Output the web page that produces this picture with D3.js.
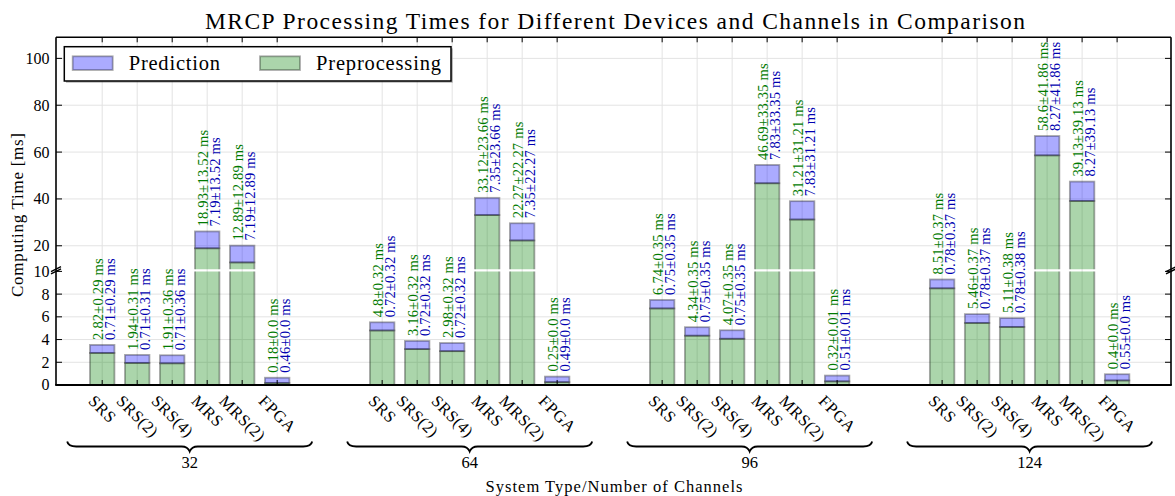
<!DOCTYPE html>
<html>
<head>
<meta charset="utf-8">
<script src="https://cdn.jsdelivr.net/npm/d3@7"></script>
<style>
  html, body { margin: 0; padding: 0; background: #fff; }
  svg { display: block; font-family: "Liberation Serif", "DejaVu Serif", serif; }
</style>
</head>
<body>
<svg id="chart" width="1175" height="496"></svg>
<script>
// Channel groups and system types
const channels = ["32", "64", "96", "124"];
const systems = ["SRS", "SRS(2)", "SRS(4)", "MRS", "MRS(2)", "FPGA"];

// Mean preprocessing time [ms], one row per channel group
const preprocessing = [
  [2.82, 1.94, 1.91, 18.93, 12.89, 0.18],
  [4.8, 3.16, 2.98, 33.12, 22.27, 0.25],
  [6.74, 4.34, 4.07, 46.69, 31.21, 0.32],
  [8.51, 5.46, 5.11, 58.6, 39.13, 0.4]
];

// Mean prediction time [ms]
const prediction = [
  [0.71, 0.71, 0.71, 7.19, 7.19, 0.46],
  [0.72, 0.72, 0.72, 7.35, 7.35, 0.49],
  [0.75, 0.75, 0.75, 7.83, 7.83, 0.51],
  [0.78, 0.78, 0.78, 8.27, 8.27, 0.55]
];

// Standard deviation reported with both times [ms]
const spread = [
  [0.29, 0.31, 0.36, 13.52, 12.89, 0.0],
  [0.32, 0.32, 0.32, 23.66, 22.27, 0.0],
  [0.35, 0.35, 0.35, 33.35, 31.21, 0.01],
  [0.37, 0.37, 0.38, 41.86, 39.13, 0.0]
];

// Tick values of the lower and upper part of the broken y axis
const lowerTicks = [0, 2, 4, 6, 8, 10];
const upperTicks = [20, 40, 60, 80, 100];

const titleText = "MRCP Processing Times for Different Devices and Channels in Comparison";
const xTitle = "System Type/Number of Channels";
const yTitle = "Computing Time [ms]";
const legendLabels = ["Prediction", "Preprocessing"];

// ---- layout ----
const plotLeft = 56, plotRight = 1171, plotTop = 37.3, plotBottom = 385;
const lowTop = 271.4, highBottom = 269.2;
const slotsPerGroup = 8;

const svg = d3.select("#chart");

const x = d3.scaleLinear().domain([-1.32, 30.54]).range([plotLeft, plotRight]);
const yLow = d3.scaleLinear().domain([0, 10]).range([plotBottom, lowTop]);
const yHigh = d3.scaleLinear().domain([10, 109]).range([highBottom, plotTop]);
const slotWidth = x(1) - x(0);
const barWidth = slotWidth * 0.7;

const bars = [];
channels.forEach((c, g) => {
  systems.forEach((s, i) => {
    bars.push({
      group: g, system: s, slot: g * slotsPerGroup + i,
      pre: preprocessing[g][i], pred: prediction[g][i], sd: spread[g][i]
    });
  });
});

const fmt = v => Number.isInteger(v) ? v.toFixed(1) : String(v);

function widen(sel, k) {
  sel.each(function () {
    const L = this.getComputedTextLength();
    this.setAttribute("textLength", (L * k).toFixed(2));
    this.setAttribute("lengthAdjust", "spacing");
  });
}
function fitTo(sel, w) {
  sel.attr("textLength", w).attr("lengthAdjust", "spacing");
}

// ---- grid ----
const grid = svg.append("g").attr("stroke", "#e3e3e3").attr("stroke-width", 1);
grid.selectAll("line.h1").data(lowerTicks.slice(1, 5)).join("line")
  .attr("x1", plotLeft).attr("x2", plotRight)
  .attr("y1", d => yLow(d)).attr("y2", d => yLow(d));
grid.selectAll("line.h2").data(upperTicks).join("line")
  .attr("x1", plotLeft).attr("x2", plotRight)
  .attr("y1", d => yHigh(d)).attr("y2", d => yHigh(d));
grid.selectAll("line.v").data(bars).join("line")
  .attr("x1", d => x(d.slot)).attr("x2", d => x(d.slot))
  .attr("y1", plotTop).attr("y2", plotBottom);

// ---- bars, drawn once per axis part and clipped to it ----
const defs = svg.append("defs");
defs.append("clipPath").attr("id", "clipLow").append("rect")
  .attr("x", plotLeft).attr("y", lowTop).attr("width", plotRight - plotLeft).attr("height", plotBottom - lowTop);
defs.append("clipPath").attr("id", "clipHigh").append("rect")
  .attr("x", plotLeft).attr("y", plotTop).attr("width", plotRight - plotLeft).attr("height", highBottom - plotTop);

function drawBars(clipId, y, lo, hi) {
  const layer = svg.append("g").attr("clip-path", `url(#${clipId})`);
  const segs = [];
  bars.forEach(b => {
    segs.push({ b, y0: 0, y1: b.pre, color: "green" });
    segs.push({ b, y0: b.pre, y1: b.pre + b.pred, color: "blue" });
  });
  layer.selectAll("rect").data(segs.filter(s => s.y1 > lo && s.y0 < hi)).join("rect")
    .attr("x", s => x(s.b.slot) - barWidth / 2)
    .attr("width", barWidth)
    .attr("y", s => y(Math.min(s.y1, hi + 5)))
    .attr("height", s => y(Math.max(s.y0, lo - 5)) - y(Math.min(s.y1, hi + 5)))
    .attr("fill", s => s.color).attr("fill-opacity", 0.33)
    .attr("stroke", "#000").attr("stroke-opacity", 0.33).attr("stroke-width", 1.8);
}
drawBars("clipLow", yLow, 0, 10);
drawBars("clipHigh", yHigh, 10, 109);

// ---- ticks (pointing inwards) ----
const ticks = svg.append("g").attr("stroke", "#000").attr("stroke-width", 1);
const yTickPos = lowerTicks.map(d => yLow(d)).concat(upperTicks.map(d => yHigh(d)));
ticks.selectAll("line.l").data(yTickPos).join("line")
  .attr("x1", plotLeft).attr("x2", plotLeft + 6).attr("y1", d => d).attr("y2", d => d);
ticks.selectAll("line.r").data(yTickPos).join("line")
  .attr("x1", plotRight).attr("x2", plotRight - 6).attr("y1", d => d).attr("y2", d => d);
ticks.selectAll("line.t").data(bars).join("line")
  .attr("x1", d => x(d.slot)).attr("x2", d => x(d.slot)).attr("y1", plotTop).attr("y2", plotTop + 5);
ticks.selectAll("line.b").data(bars).join("line")
  .attr("x1", d => x(d.slot)).attr("x2", d => x(d.slot)).attr("y1", plotBottom).attr("y2", plotBottom - 5);

// ---- frame ----
const frame = svg.append("g").attr("stroke", "#000").attr("fill", "none");
frame.append("line").attr("x1", plotLeft).attr("x2", plotLeft).attr("y1", plotTop).attr("y2", plotBottom).attr("stroke-width", 1.6);
frame.append("line").attr("x1", plotRight).attr("x2", plotRight).attr("y1", plotTop).attr("y2", plotBottom).attr("stroke-width", 1.6);
frame.append("line").attr("x1", plotLeft).attr("x2", plotRight).attr("y1", plotTop).attr("y2", plotTop).attr("stroke-width", 1.6);
frame.append("line").attr("x1", plotLeft - 0.8).attr("x2", plotRight + 0.8).attr("y1", plotBottom).attr("y2", plotBottom).attr("stroke-width", 2);

// break marks on both spines
[plotLeft, plotRight].forEach(sx => {
  [highBottom, lowTop].forEach(by => {
    frame.append("line")
      .attr("x1", sx - 5).attr("y1", by + 2.5)
      .attr("x2", sx + 5).attr("y2", by - 2.5)
      .attr("stroke-width", 1.4);
  });
});

// ---- y tick labels ----
const yLabels = svg.append("g").attr("font-size", 16).attr("fill", "#000").attr("text-anchor", "end");
yLabels.selectAll("text.lo").data(lowerTicks).join("text")
  .attr("x", plotLeft - 6.5).attr("y", d => yLow(d)).attr("dy", "0.34em").text(d => d);
yLabels.selectAll("text.hi").data(upperTicks).join("text")
  .attr("x", plotLeft - 6.5).attr("y", d => yHigh(d)).attr("dy", "0.34em").text(d => d);

// ---- x tick labels, rotated 45 degrees and centred under each bar ----
const xLabels = svg.append("g").attr("font-size", 16.5).attr("fill", "#000");
xLabels.selectAll("text").data(bars).join("text")
  .attr("text-anchor", "middle")
  .attr("dy", "0.32em")
  .text(d => d.system)
  .call(widen, 1.05)
  .attr("transform", function (d) {
    const L = +this.getAttribute("textLength");
    const cy = 394 + 0.3536 * (L + 12);
    return `translate(${x(d.slot)},${cy}) rotate(45)`;
  });

// ---- value labels above each bar ----
const valueLayer = svg.append("g").attr("font-size", 14.5);
bars.forEach(b => {
  const total = b.pre + b.pred;
  const yt = (total > 10 ? yHigh(total) : yLow(total)) - 5;
  const cx = x(b.slot);
  valueLayer.append("text")
    .attr("transform", `translate(${cx + 0.8},${yt}) rotate(-90)`)
    .attr("fill", "#007a00")
    .text(`${fmt(b.pre)}±${fmt(b.sd)} ms`)
    .call(widen, 1.03);
  valueLayer.append("text")
    .attr("transform", `translate(${cx + 12.5},${yt}) rotate(-90)`)
    .attr("fill", "#0000b0")
    .text(`${fmt(b.pred)}±${fmt(b.sd)} ms`)
    .call(widen, 1.03);
});

// ---- curly braces with channel counts ----
const braceY = 446.5;
const braces = svg.append("g");
channels.forEach((c, g) => {
  const x0 = x(g * slotsPerGroup - 1), x1 = x(g * slotsPerGroup + systems.length);
  const xc = (x0 + x1) / 2;
  const p = `M${x0},${braceY - 5} Q${x0 + 1},${braceY} ${x0 + 9},${braceY}` +
            ` L${xc - 8},${braceY} Q${xc - 2},${braceY} ${xc},${braceY + 5}` +
            ` Q${xc + 2},${braceY} ${xc + 8},${braceY} L${x1 - 9},${braceY}` +
            ` Q${x1 - 1},${braceY} ${x1},${braceY - 5}`;
  braces.append("path").attr("d", p).attr("fill", "none")
    .attr("stroke", "#000").attr("stroke-width", 1.8);
  braces.append("text").attr("x", xc).attr("y", 467.5)
    .attr("text-anchor", "middle").attr("font-size", 16.5).attr("fill", "#000").text(c);
});

// ---- axis titles and chart title ----
svg.append("text").attr("x", 614).attr("y", 491.5).attr("text-anchor", "middle")
  .attr("font-size", 16.5).attr("fill", "#000").text(xTitle).call(fitTo, 257);
svg.append("text").attr("transform", "translate(22.5,215) rotate(-90)")
  .attr("text-anchor", "middle").attr("font-size", 17).attr("fill", "#000")
  .text(yTitle).call(fitTo, 164);
svg.append("text").attr("x", 615).attr("y", 28.5).attr("text-anchor", "middle")
  .attr("font-size", 23.5).attr("fill", "#000").text(titleText).call(fitTo, 820);

// ---- legend ----
const legend = svg.append("g");
legend.append("rect").attr("x", 66).attr("y", 48.4).attr("width", 386.7).attr("height", 34.3)
  .attr("fill", "#000").attr("fill-opacity", 0.3);
legend.append("rect").attr("x", 64.3).attr("y", 46.7).attr("width", 386.7).attr("height", 34.3)
  .attr("fill", "#fff").attr("stroke", "#000").attr("stroke-width", 1.5);
const legendItems = [
  { label: legendLabels[0], color: "blue", px: 72.7, tx: 128.7, w: 91.3 },
  { label: legendLabels[1], color: "green", px: 260, tx: 316, w: 125 }
];
legendItems.forEach(it => {
  legend.append("rect").attr("x", it.px).attr("y", 56.3).attr("width", 40).attr("height", 13.7)
    .attr("fill", it.color).attr("fill-opacity", 0.33)
    .attr("stroke", "#000").attr("stroke-opacity", 0.33).attr("stroke-width", 1.8);
  legend.append("text").attr("x", it.tx).attr("y", 70).attr("font-size", 20.5).attr("fill", "#000")
    .text(it.label).call(fitTo, it.w);
});
</script>
</body>
</html>
